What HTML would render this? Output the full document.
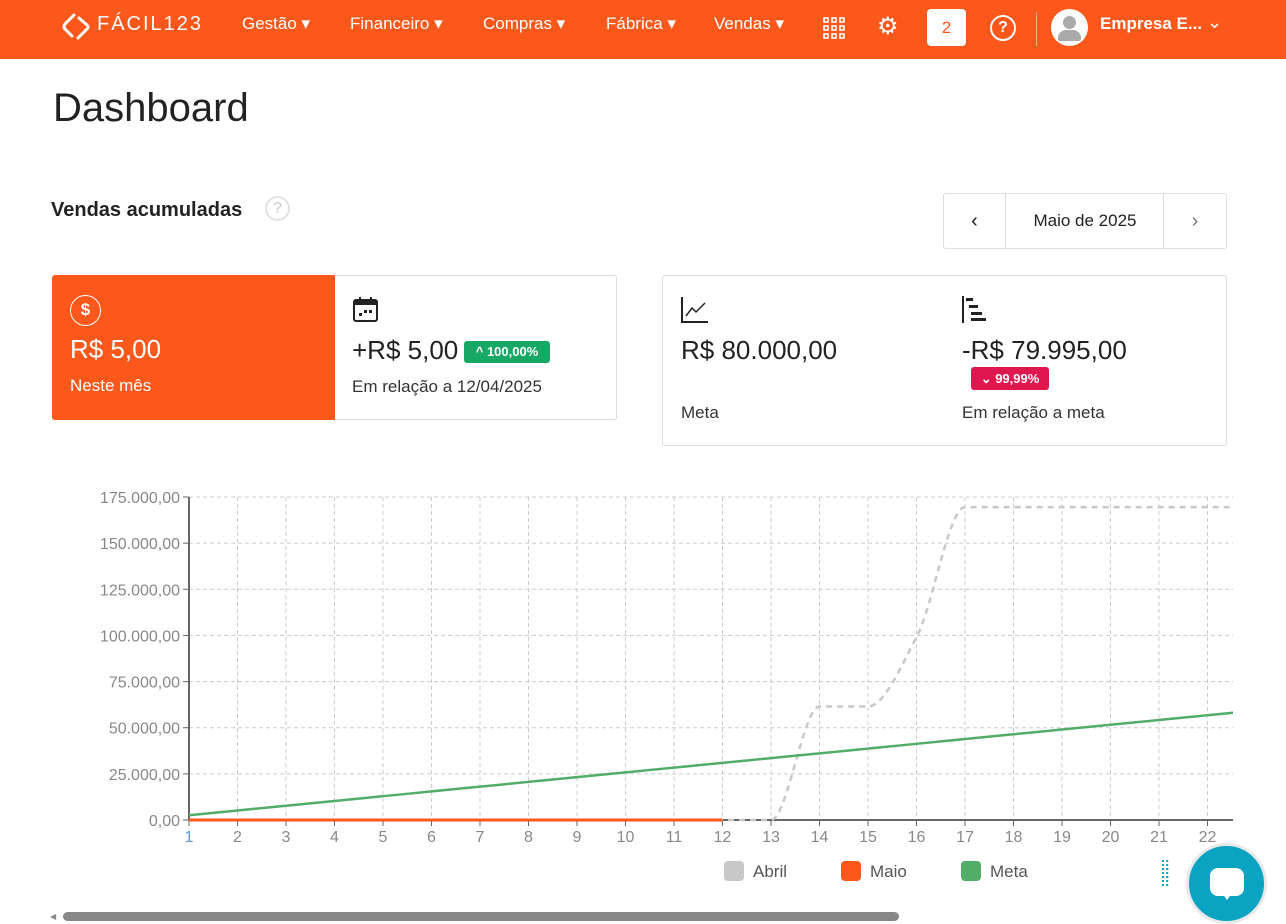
<!DOCTYPE html>
<html><head><meta charset="utf-8">
<style>
*{box-sizing:border-box;margin:0;padding:0}
body{width:1286px;height:921px;overflow:hidden;background:#fff;font-family:"Liberation Sans",sans-serif;color:#222;position:relative}
.nav{position:absolute;left:0;top:0;width:1286px;height:59px;background:#fd581b;color:#fff}
.nav span{position:absolute;top:14px;font-size:17px}
.abs{position:absolute}
.card{position:absolute;border:1px solid #ddd;border-radius:3px}
</style></head><body>
<div class="nav">
  <svg class="abs" style="left:60px;top:10px" width="34" height="34"><path d="M14 5 L5 14 Q3 17 5 19 L12 26 M19 8 L27 15 Q29 17 27 19 L18 28" stroke="#fff" stroke-width="3" fill="none" stroke-linecap="round"/></svg>
  <span style="left:97px;top:13px;font-size:20px;letter-spacing:2px">FÁCIL123</span>
  <span style="left:242px">Gestão ▾</span>
  <span style="left:350px">Financeiro ▾</span>
  <span style="left:483px">Compras ▾</span>
  <span style="left:606px">Fábrica ▾</span>
  <span style="left:714px">Vendas ▾</span>
  <svg class="abs" style="left:823px;top:17px" width="22" height="22"><g fill="none" stroke="#fff" stroke-width="1.6"><rect x="1" y="1" width="4" height="4"/><rect x="9" y="1" width="4" height="4"/><rect x="17" y="1" width="4" height="4"/><rect x="1" y="9" width="4" height="4"/><rect x="9" y="9" width="4" height="4"/><rect x="17" y="9" width="4" height="4"/><rect x="1" y="17" width="4" height="4"/><rect x="9" y="17" width="4" height="4"/><rect x="17" y="17" width="4" height="4"/></g></svg>
  <span style="left:877px;top:12px;font-size:24px">⚙</span>
  <div class="abs" style="left:927px;top:9px;width:39px;height:37px;background:#fff;border-radius:4px;color:#fd581b;font-size:17px;text-align:center;line-height:37px">2</div>
  <div class="abs" style="left:990px;top:15px;width:26px;height:26px;border:2px solid #fff;border-radius:50%;text-align:center;line-height:22px;font-size:16px;font-weight:bold">?</div>
  <div class="abs" style="left:1036px;top:12px;width:1px;height:34px;background:#ffb08f"></div>
  <div class="abs" style="left:1051px;top:9px;width:37px;height:37px;background:#fff;border-radius:50%">
   <div class="abs" style="left:12px;top:7px;width:13px;height:13px;background:#aaa;border-radius:50%"></div>
   <div class="abs" style="left:7px;top:21px;width:23px;height:11px;background:#aaa;border-radius:8px 8px 2px 2px"></div></div>
  <span style="left:1100px;font-weight:bold">Empresa E...</span>
  <span style="left:1207px;top:12px;font-size:18px">⌄</span>
</div>
<div class="abs" style="left:53px;top:86px;font-size:40px;color:#222">Dashboard</div>
<div class="abs" style="left:51px;top:199px;font-size:20px;font-weight:bold;color:#222">Vendas acumuladas</div>
<div class="abs" style="left:265px;top:196px;width:25px;height:25px;border:2px solid #e3e3e3;border-radius:50%;color:#ccc;text-align:center;line-height:21px;font-size:16px">?</div>
<div class="card" style="left:943px;top:193px;width:284px;height:56px">
 <div class="abs" style="left:0;top:0;width:62px;height:54px;border-right:1px solid #ddd;text-align:center;line-height:54px;font-size:20px">‹</div>
 <div class="abs" style="left:62px;top:0;width:158px;height:54px;text-align:center;line-height:54px;font-size:17px">Maio de 2025</div>
 <div class="abs" style="left:219px;top:0;width:63px;height:54px;border-left:1px solid #ddd;text-align:center;line-height:54px;font-size:20px;color:#777">›</div>
</div>
<div class="card" style="left:52px;top:275px;width:565px;height:145px">
 <div class="abs" style="left:-1px;top:-1px;width:283px;height:145px;background:#fd581b;border-radius:3px 0 0 3px;color:#fff">
  <div class="abs" style="left:18px;top:20px;width:31px;height:31px;border:1.5px solid #fff;border-radius:50%;text-align:center;line-height:28px;font-size:17px;font-weight:bold">$</div>
  <div class="abs" style="left:18px;top:59px;font-size:26px">R$ 5,00</div>
  <div class="abs" style="left:18px;top:101px;font-size:17px">Neste mês</div>
 </div>
 <svg class="abs" style="left:299px;top:20px" width="28" height="28"><rect x="2" y="4" width="23" height="21" rx="2" fill="none" stroke="#222" stroke-width="2"/><rect x="2" y="4" width="23" height="5" fill="#222"/><rect x="7" y="1" width="2" height="4" fill="#222"/><rect x="18" y="1" width="2" height="4" fill="#222"/><rect x="7" y="17" width="3" height="3" fill="#222"/><rect x="12" y="14" width="3" height="3" fill="#222"/><rect x="17" y="14" width="3" height="3" fill="#222"/></svg>
 <div class="abs" style="left:299px;top:59px;font-size:26px">+R$ 5,00</div>
 <div class="abs" style="left:411px;top:65px;width:86px;height:22px;background:#17a865;border-radius:3px;color:#fff;font-size:13px;font-weight:bold;text-align:center;line-height:22px">^ 100,00%</div>
 <div class="abs" style="left:299px;top:101px;font-size:17px;color:#333">Em relação a 12/04/2025</div>
</div>
<div class="card" style="left:662px;top:275px;width:565px;height:171px">
 <svg class="abs" style="left:18px;top:20px" width="28" height="28"><path d="M1 1 V26 H27" stroke="#222" stroke-width="2" fill="none"/><path d="M5 20 L11 12 L15 16 L24 7" stroke="#222" stroke-width="1.5" fill="none"/></svg>
 <div class="abs" style="left:18px;top:59px;font-size:26px">R$ 80.000,00</div>
 <div class="abs" style="left:18px;top:127px;font-size:17px;color:#333">Meta</div>
 <svg class="abs" style="left:299px;top:20px" width="28" height="28"><rect x="0" y="0" width="2" height="27" fill="#222"/><rect x="4" y="2" width="7" height="3" fill="#222"/><rect x="7" y="9" width="9" height="3" fill="#222"/><rect x="9" y="16" width="11" height="3" fill="#222"/><rect x="9" y="22" width="15" height="3" fill="#222"/></svg>
 <div class="abs" style="left:299px;top:59px;font-size:26px">-R$ 79.995,00</div>
 <div class="abs" style="left:308px;top:91px;width:78px;height:23px;background:#e0174f;border-radius:3px;color:#fff;font-size:13px;font-weight:bold;text-align:center;line-height:23px">⌄ 99,99%</div>
 <div class="abs" style="left:299px;top:127px;font-size:17px;color:#333">Em relação a meta</div>
</div>
<svg class="abs" style="left:0;top:470px" width="1286" height="430" id="chart"></svg>
<div class="abs" style="left:50px;top:912px;width:6px;height:9px;color:#888;font-size:8px">◀</div>
<div class="abs" style="left:63px;top:912px;width:836px;height:9px;background:#888;border-radius:5px"></div>
<div class="abs" style="left:1160px;top:862px;width:16px;height:40px;color:#0aa3c2;font-size:14px;line-height:8px;letter-spacing:-1px">⠿<br>⠿<br>⠿</div>
<div class="abs" style="left:1186px;top:843px;width:81px;height:81px;background:#0aa3c2;border-radius:50%;border:3px solid #e8e8e8">
 <div class="abs" style="left:21px;top:22px;width:34px;height:28px;background:#fff;border-radius:8px"></div>
 <div class="abs" style="left:33px;top:47px;width:0;height:0;border-left:5px solid transparent;border-right:5px solid transparent;border-top:7px solid #fff"></div>
</div>
<script>
const days=[1,2,3,4,5,6,7,8,9,10,11,12,13,14,15,16,17,18,19,20,21,22,23];
const abril=[0,0,0,0,0,0,0,0,0,0,0,0,0,61500,61500,99000,169500,169500,169500,169500,169500,169500,169500];
const maio=[5,5,5,5,5,5,5,5,5,5,5,5];
const meta=[2580,5160,7740,10320,12900,15480,18060,20640,23220,25800,28380,30960,33540,36120,38700,41280,43860,46440,49020,51600,54180,56760,59340];
const yTicks=[0,25000,50000,75000,100000,125000,150000,175000];
const yLabels=["0,00","25.000,00","50.000,00","75.000,00","100.000,00","125.000,00","150.000,00","175.000,00"];
const xTicks=[1,2,3,4,5,6,7,8,9,10,11,12,13,14,15,16,17,18,19,20,21,22];
const legendNames=["Abril","Maio","Meta"];
const legendColors=["#c8c8c8","#fd581b","#52ad68"];
const svg=document.getElementById('chart');const NS='http://www.w3.org/2000/svg';
const OY=470,X0=189,XS=48.5,XR=1233,Y0=820-OY,YT=497-OY;
const x=d=>X0+(d-1)*XS, y=v=>Y0-(v/175000)*(Y0-YT);
function el(t,a,p){const e=document.createElementNS(NS,t);for(const k in a)e.setAttribute(k,a[k]);(p||svg).appendChild(e);return e;}
const clip=el('clipPath',{id:'cl'});el('rect',{x:X0,y:0,width:XR-X0,height:Y0+2},clip);
yTicks.forEach((v,i)=>{
 const g=el('line',{x1:X0,x2:XR,y1:y(v),y2:y(v),stroke:'#ccc','stroke-dasharray':'4 3'});
 
 el('line',{x1:X0-6,x2:X0,y1:y(v),y2:y(v),stroke:'#666'});
 const t=el('text',{x:X0-9,y:y(v)+6,'text-anchor':'end','font-size':'16',fill:'#888','font-family':'Liberation Sans'});t.textContent=yLabels[i];
 
});
xTicks.forEach(d=>{
 if(d>1){const g=el('line',{x1:x(d),x2:x(d),y1:YT,y2:Y0,stroke:'#ccc','stroke-dasharray':'4 3'});}
 el('line',{x1:x(d),x2:x(d),y1:Y0,y2:Y0+6,stroke:'#666'});
 const t=el('text',{x:x(d),y:Y0+22,'text-anchor':'middle','font-size':'16',fill:d==1?'#5b9bd5':'#888','font-family':'Liberation Sans'});t.textContent=d;
 
});
el('line',{x1:X0,x2:X0,y1:YT,y2:Y0,stroke:'#666','stroke-width':2});
el('line',{x1:X0,x2:XR,y1:Y0,y2:Y0,stroke:'#666','stroke-width':2});
function mono(xs,ys){const n=xs.length;if(n<2)return '';const dx=[],m=[],t=[];
 for(let i=0;i<n-1;i++){dx.push(xs[i+1]-xs[i]);m.push((ys[i+1]-ys[i])/dx[i]);}
 t[0]=m[0];t[n-1]=m[n-2];
 for(let i=1;i<n-1;i++){t[i]=(m[i-1]*m[i]<=0)?0:3*(dx[i-1]+dx[i])/((2*dx[i]+dx[i-1])/m[i-1]+(dx[i]+2*dx[i-1])/m[i]);}
 let p='M'+xs[0]+','+ys[0];
 for(let i=0;i<n-1;i++){const h=dx[i]/3;p+=' C'+(xs[i]+h)+','+(ys[i]+t[i]*h)+' '+(xs[i+1]-h)+','+(ys[i+1]-t[i+1]*h)+' '+xs[i+1]+','+ys[i+1];}
 return p;}
function series(vals,color,dash,name,w){const xs=vals.map((v,i)=>x(days[i])),ys=vals.map(v=>y(v));
 const a={d:mono(xs,ys),fill:'none',stroke:color,'stroke-width':w,'clip-path':'url(#cl)'};if(dash)a['stroke-dasharray']=dash;
 const p=el('path',a);}
series(abril,'#c8c8c8','6 5','abril-line',2.5);
series(meta,'#52ad68',null,'meta-line',2.5);
series(maio,'#fd581b',null,'maio-line',3);
const lx=[724,841,961];
legendNames.forEach((n,i)=>{
 const r=el('rect',{x:lx[i],y:861-OY,width:20,height:20,rx:4,fill:legendColors[i]});
 
 const t=el('text',{x:lx[i]+29,y:877-OY,'font-size':'17',fill:'#555','font-family':'Liberation Sans'});t.textContent=n;
 
});
</script>
</body></html>
